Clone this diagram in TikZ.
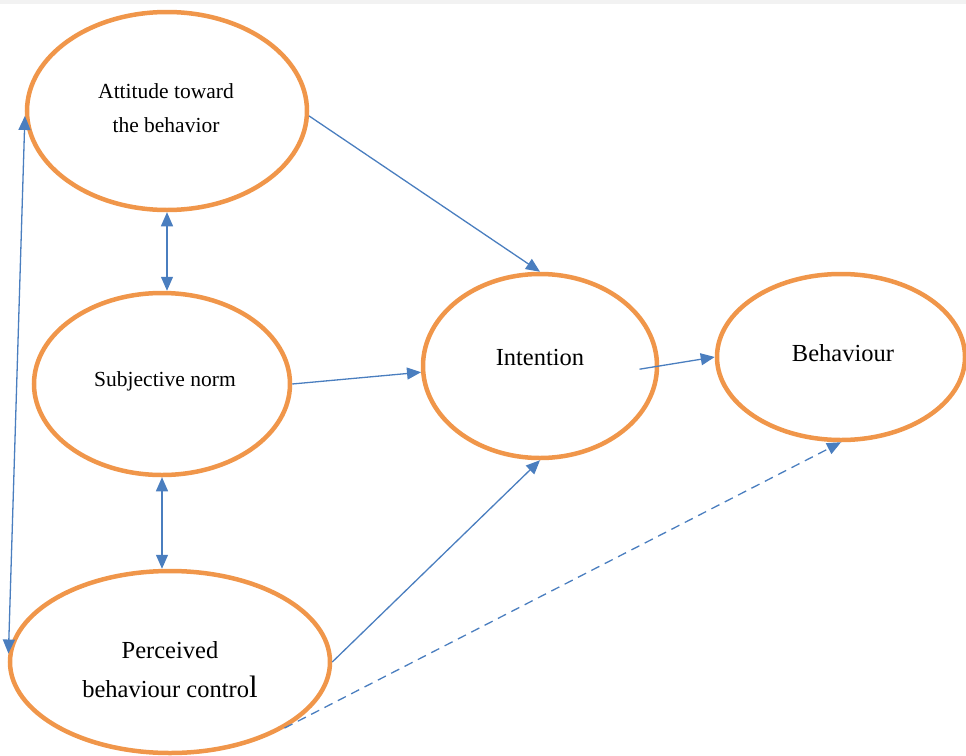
\documentclass[tikz,border=0pt]{standalone}
\usepackage{fontspec}
\setmainfont{Liberation Serif}
\usetikzlibrary{shapes.geometric,arrows.meta}
\definecolor{oring}{HTML}{F0964A}
\definecolor{arblue}{HTML}{4A7EBF}
\tikzset{
  oval/.style={ellipse, draw=oring, line width=4.5pt, inner sep=0pt},
  conn/.style={draw=arblue, line width=1.3pt, -{Triangle[length=14pt,width=12pt]}},
  biconn/.style={draw=arblue, line width=1.3pt, {Triangle[length=14pt,width=12pt]}-{Triangle[length=14pt,width=12pt]}},
  smalltxt/.style={font=\fontsize{21.5}{34}\selectfont, align=center},
  bigtxt/.style={font=\fontsize{24.5}{39}\selectfont, align=center},
}
\begin{document}
\begin{tikzpicture}[x=1pt,y=-1pt]
\useasboundingbox (0,0) rectangle (966,755);
\fill[gray!10] (0,0) rectangle (966,4);
\node[oval, minimum width=280pt, minimum height=198pt] (att) at (167,111) {};
\node[oval, minimum width=256pt, minimum height=182pt] (subj) at (162,384) {};
\node[oval, minimum width=320pt, minimum height=182pt] (perc) at (170,662) {};
\node[oval, minimum width=234pt, minimum height=184pt] (int) at (540,366) {};
\node[oval, minimum width=248pt, minimum height=166pt] (beh) at (841,357) {};
\node[smalltxt] (attT) at (166,108) {Attitude toward\\the behavior};
\node[smalltxt] (subjT) at (165,381) {Subjective norm};
\node[bigtxt] (intT) at (540,358) {Intention};
\node[bigtxt] (behT) at (843,353) {Behaviour};
\node[bigtxt] (percT) at (170,670) {Perceived\\behaviour contro{\fontsize{31}{31}\selectfont l}};
\draw[conn] (att.-2) -- (int.north);
\draw[biconn] (att.south) -- (att.south |- subj.north);
\draw[biconn] (subj.south) -- (subj.south |- perc.north);
\draw[conn] (subj.east) -- (int.183);
\draw[conn] (perc.east) -- (int.south);
\draw[conn, shorten <=-20pt] (int.east) -- (beh.west);
\draw[conn, dashed, dash pattern=on 9pt off 6pt] (perc.-30) -- (beh.south);
\draw[biconn] (att.182) -- (perc.177);
\end{tikzpicture}
\end{document}
